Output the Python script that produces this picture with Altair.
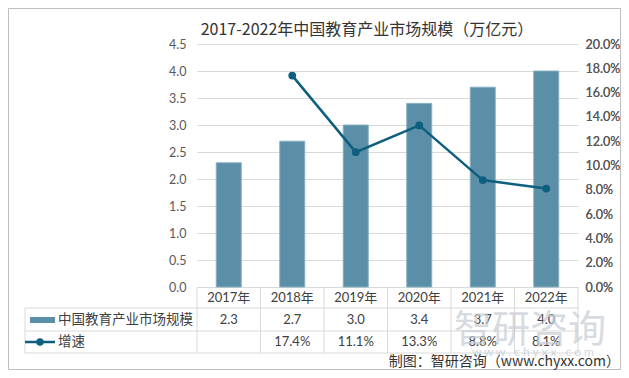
import altair as alt
import pandas as pd

# ---- data ----
years = ["2017年", "2018年", "2019年", "2020年", "2021年", "2022年"]
market = [2.3, 2.7, 3.0, 3.4, 3.7, 4.0]          # 万亿元
growth_pct = [None, 17.4, 11.1, 13.3, 8.8, 8.1]  # %
market_labels = ["2.3", "2.7", "3.0", "3.4", "3.7", "4.0"]
growth_labels = ["", "17.4%", "11.1%", "13.3%", "8.8%", "8.1%"]
left_ticks = [0, 0.5, 1.0, 1.5, 2.0, 2.5, 3.0, 3.5, 4.0, 4.5]
right_ticks = [0, 0.02, 0.04, 0.06, 0.08, 0.10, 0.12, 0.14, 0.16, 0.18, 0.20]
title_text = "2017-2022年中国教育产业市场规模（万亿元）"
series1 = "中国教育产业市场规模"
series2 = "增速"
source_text = "制图：智研咨询（www.chyxx.com）"

df = pd.DataFrame({
    "year": years,
    "market": market,
    "growth": [g / 100 if g is not None else None for g in growth_pct],
    "mlabel": market_labels,
    "glabel": growth_labels,
})

W, H = 381, 243
BAR = "#5A8FA7"
LINE = "#0E5F7F"
GRID = "#D9D9D9"
TXT = "#404040"
FONT = "Lato, Noto Sans CJK SC, sans-serif"
CJK = "Noto Sans CJK SC, sans-serif"
one = alt.Data(values=[{}])

xenc = alt.X("year:N", sort=years, axis=None,
             scale=alt.Scale(paddingInner=0.606, paddingOuter=0.303))

bars = alt.Chart(df).mark_bar(color=BAR, stroke="#88B0C2", strokeWidth=1).encode(
    x=xenc,
    y=alt.Y("market:Q", scale=alt.Scale(domain=[0, 4.5], nice=False),
            axis=alt.Axis(values=left_ticks, format=".1f", grid=True, gridColor=GRID,
                          domain=False, ticks=False, labelPadding=11,
                          labelColor="#595959", labelFontSize=12.5, labelFont=FONT,
                          title=None)),
)

gy = alt.Y("growth:Q", scale=alt.Scale(domain=[0, 0.2], nice=False),
           axis=alt.Axis(orient="right", values=right_ticks, format=".1%", grid=False,
                         domain=False, ticks=False, labelPadding=7,
                         labelColor="#595959", labelFontSize=12.5, labelFont=FONT,
                         title=None))
line = alt.Chart(df).mark_line(color=LINE, strokeWidth=2.5).encode(x=xenc, y=gy)
pts = alt.Chart(df).mark_circle(color=LINE, size=60, opacity=1).encode(x=xenc, y=gy)


def hrule(y, x1, x2, color=GRID, w=1):
    return alt.Chart(one).mark_rule(color=color, strokeWidth=w).encode(
        x=alt.value(x1), x2=alt.value(x2), y=alt.value(y))


def vrule(x, y1, y2, color=GRID, w=1):
    return alt.Chart(one).mark_rule(color=color, strokeWidth=w).encode(
        x=alt.value(x), y=alt.value(y1), y2=alt.value(y2))


def label(text, x, y, size=13, align="left", color=TXT, font=CJK, **kw):
    return alt.Chart(one).mark_text(text=text, align=align, baseline="middle",
                                    fontSize=size, color=color, font=font, **kw).encode(
        x=alt.value(x), y=alt.value(y))


step = W / 6
table_lines = [hrule(264, -172, W), hrule(287, -172, W), hrule(309, -172, W),
               vrule(-172, 264, 309)]
table_lines += [vrule(step * k, H, 309) for k in range(7)]

year_txt = alt.Chart(df).mark_text(fontSize=13, color=TXT, font=FONT, baseline="middle").encode(
    x=xenc, y=alt.value(254), text="year:N")
m_txt = alt.Chart(df).mark_text(fontSize=13, color=TXT, font=FONT, baseline="middle").encode(
    x=xenc, y=alt.value(276), text="mlabel:N")
g_txt = alt.Chart(df).mark_text(fontSize=13, color=TXT, font=FONT, baseline="middle").encode(
    x=xenc, y=alt.value(298), text="glabel:N")

swatch = alt.Chart(one).mark_rect(color=BAR).encode(
    x=alt.value(-167), x2=alt.value(-142), y=alt.value(273), y2=alt.value(279))
key_line = hrule(298, -172, -142, color=LINE, w=2.5)
key_dot = alt.Chart(one).mark_circle(color=LINE, size=55, opacity=1).encode(
    x=alt.value(-157), y=alt.value(298))

watermark = [
    label("智研咨询", 333, 287, size=38, align="center", color="#C5CDD5", opacity=0.7),
    label("w w w . c h y x x . c o m", 336, 308, size=12, align="center",
          color="#C5CDD5", font=FONT, opacity=0.8),
]

texts = [
    label(title_text, 170, -14, size=16, align="center", color="#333333"),
    label(series1, -139, 276, size=13.5),
    label(series2, -139, 298, size=13.5),
    label(source_text, 423, 318, size=14, align="right", color="#333333"),
]

border = alt.Chart(one).mark_rect(fill=None, stroke="#BFBFBF", strokeWidth=1).encode(
    x=alt.value(-188.5), x2=alt.value(W + 42.5), y=alt.value(-35.5), y2=alt.value(H + 82.5))

chart = alt.layer(
    border, bars, line, pts, *table_lines, year_txt, m_txt, g_txt,
    swatch, key_line, key_dot, *watermark, *texts,
).resolve_scale(y="independent").properties(
    width=W, height=H, autosize="none",
    padding={"left": 189, "top": 36, "right": 43, "bottom": 83},
    background="white",
).configure_view(stroke=None)

chart.save("out.html", embed_options={"renderer": "svg", "actions": False})
